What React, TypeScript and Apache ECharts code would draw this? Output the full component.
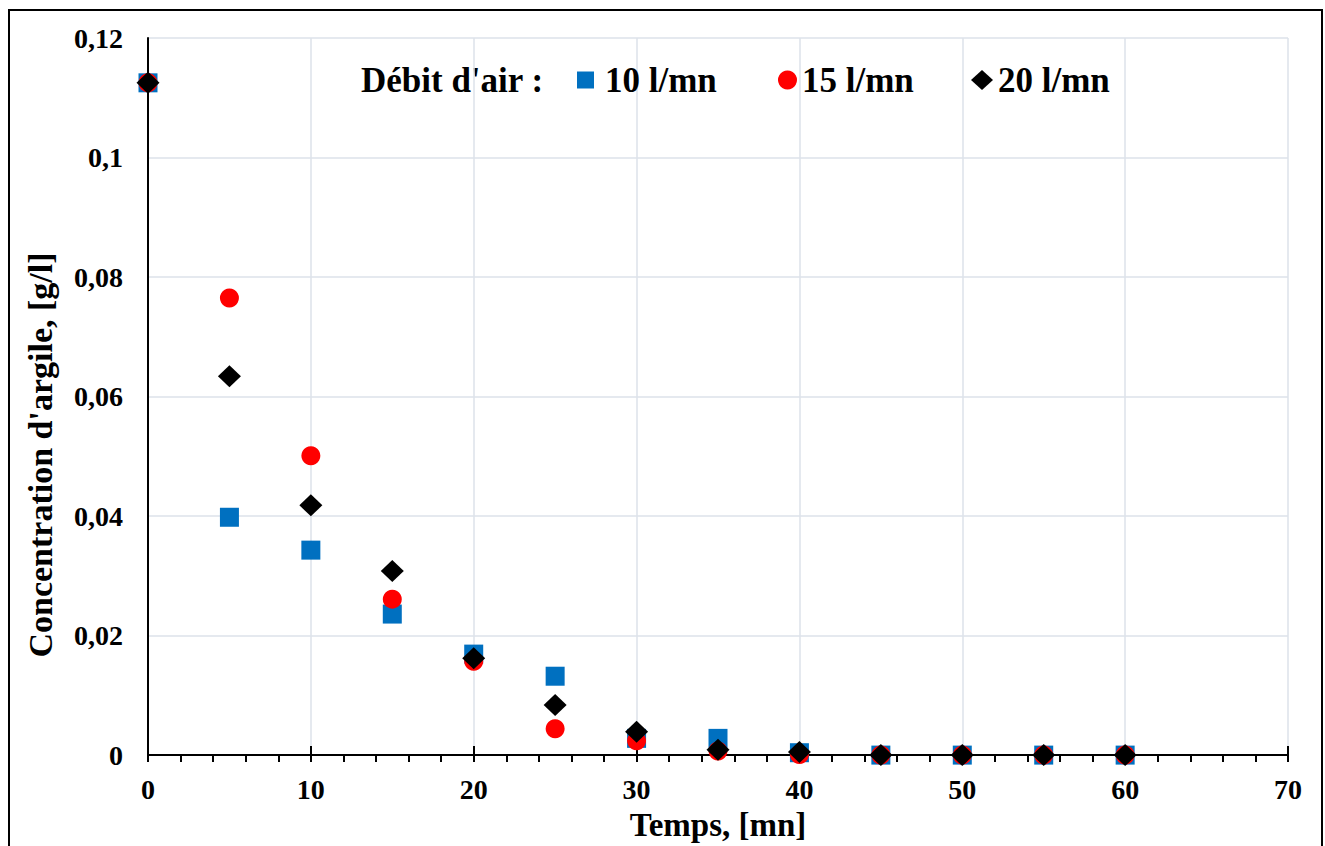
import React, { useEffect, useRef } from "react";
import * as echarts from "echarts";

const times = [0, 5, 10, 15, 20, 25, 30, 35, 40, 45, 50, 55, 60];
const flow10 = [0.1125, 0.0398, 0.0343, 0.0236, 0.0169, 0.0132, 0.0028, 0.0028, 0.0004, 0, 0, 0, 0];
const flow15 = [0.1125, 0.0765, 0.0501, 0.0261, 0.0157, 0.0044, 0.0024, 0.0007, 0.0001, 0, 0, 0, 0];
const flow20 = [0.1125, 0.0634, 0.0418, 0.0308, 0.0162, 0.0084, 0.0039, 0.0009, 0.0005, 0, 0, 0, 0];
const seriesNames = ["10 l/mn", "15 l/mn", "20 l/mn"];
const seriesColors = ["#0070C0", "#FF0000", "#000000"];
const legendTitle = "Débit d'air :";
const xTitle = "Temps, [mn]";
const yTitle = "Concentration d'argile, [g/l]";

const FONT = "Liberation Serif";

export default function App() {
  const ref = useRef<HTMLDivElement>(null);
  useEffect(() => {
    if (!ref.current) return;
    const chart = echarts.init(ref.current, undefined, { renderer: "svg" });
    const pairs = (ys: number[]) => times.map((t, i) => [t, ys[i]]);
    const legendBase = (name: string, left: number, icon: string, w: number, h: number, pad: number) => ({
      show: true,
      data: [{ name, icon }],
      left,
      top: 60,
      itemWidth: w,
      itemHeight: h,
      itemGap: 0,
      padding: 0,
      itemStyle: { opacity: 1 },
      textStyle: { fontFamily: FONT, fontWeight: "bold", fontSize: 35, color: "#000", lineHeight: 40, padding: [0, 0, 0, pad] },
    });
    chart.setOption({
      animation: false,
      backgroundColor: "#fff",
      grid: { left: 148, right: 37, top: 38, bottom: 90, containLabel: false },
      legend: [
        legendBase(seriesNames[0], 577, "rect", 17, 17, 6),
        legendBase(seriesNames[1], 778, "circle", 19, 19, 0),
        legendBase(seriesNames[2], 971, "diamond", 22, 20, 0),
      ],
      xAxis: [
        {
          type: "value",
          min: 0,
          max: 70,
          interval: 10,
          position: "bottom",
          name: xTitle,
          nameLocation: "middle",
          nameGap: 50,
          nameTextStyle: { fontFamily: FONT, fontWeight: "bold", fontSize: 33, color: "#000" },
          axisLine: { show: true, onZero: false, lineStyle: { color: "#000", width: 2 } },
          axisTick: { show: true, inside: false, length: 7, lineStyle: { color: "#000", width: 2 } },
          minorTick: { show: true, splitNumber: 5, length: 7, lineStyle: { color: "#000", width: 2 } },
          axisLabel: {
            fontFamily: FONT,
            fontWeight: "bold",
            fontSize: 28,
            color: "#000",
            margin: 20,
          },
          splitLine: { show: true, lineStyle: { color: "#dde2ea", width: 1.5 } },
        },
        {
          type: "value",
          min: 0,
          max: 70,
          interval: 10,
          position: "bottom",
          axisLine: { show: false, onZero: false },
          axisTick: { show: true, inside: true, length: 9, lineStyle: { color: "#000", width: 2 } },
          axisLabel: { show: false },
          splitLine: { show: false },
        },
      ],
      yAxis: {
        type: "value",
        min: 0,
        max: 0.12,
        interval: 0.02,
        axisLine: { show: true, onZero: false, lineStyle: { color: "#000", width: 2 } },
        axisTick: { show: false },
        axisLabel: {
          fontFamily: FONT,
          fontWeight: "bold",
          fontSize: 28,
          color: "#000",
          margin: 25,
          formatter: (v: number) => String(+v.toFixed(2)).replace(".", ","),
        },
        splitLine: { show: true, lineStyle: { color: "#dde2ea", width: 1.5 } },
      },
      graphic: [
        {
          type: "rect",
          shape: { x: 9, y: 10, width: 1313, height: 860 },
          style: { fill: "none", stroke: "#000", lineWidth: 2 },
          silent: true,
          z: 100,
        },
        {
          type: "text",
          x: 361,
          y: 80,
          style: {
            text: legendTitle,
            fontFamily: FONT,
            fontWeight: "bold",
            fontSize: 35,
            fill: "#000",
            align: "left",
            verticalAlign: "middle",
          },
        },
        {
          type: "text",
          x: 40,
          y: 455,
          rotation: Math.PI / 2,
          style: {
            text: yTitle,
            fontFamily: FONT,
            fontWeight: "bold",
            fontSize: 34,
            fill: "#000",
            align: "center",
            verticalAlign: "middle",
          },
        },
      ],
      series: [
        {
          name: seriesNames[0],
          type: "scatter",
          data: pairs(flow10),
          symbol: "rect",
          symbolSize: 19,
          itemStyle: { color: seriesColors[0], opacity: 1 },
          z: 2,
        },
        {
          name: seriesNames[1],
          type: "scatter",
          data: pairs(flow15),
          symbol: "circle",
          symbolSize: 19,
          itemStyle: { color: seriesColors[1], opacity: 1 },
          z: 3,
        },
        {
          name: seriesNames[2],
          type: "scatter",
          data: pairs(flow20),
          symbol: "diamond",
          symbolSize: [23, 22],
          itemStyle: { color: seriesColors[2], opacity: 1 },
          z: 4,
        },
      ],
    });
    return () => chart.dispose();
  }, []);
  return (
    <div
      ref={ref}
      style={{ position: "absolute", left: 0, top: 0, width: 1325, height: 846, background: "#fff" }}
    />
  );
}
